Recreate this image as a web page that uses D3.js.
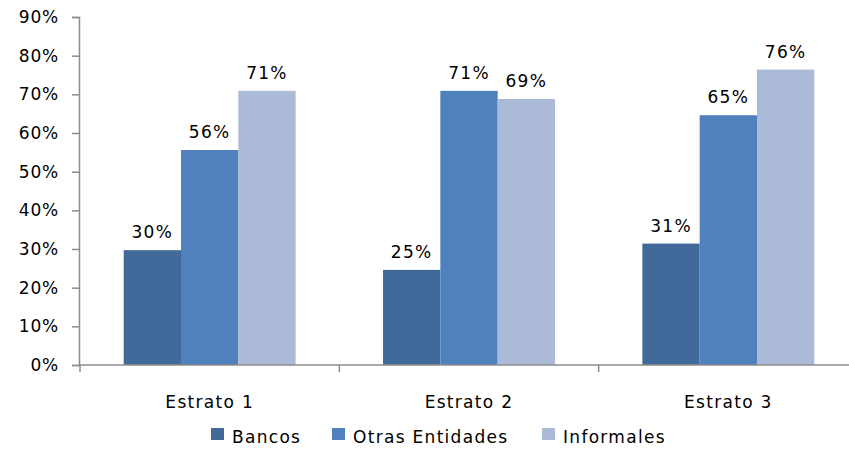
<!DOCTYPE html>
<html><head><meta charset="utf-8">
<script src="https://cdn.jsdelivr.net/npm/d3@7"></script>
<style>body{margin:0;background:#fff}svg{display:block}text{font-family:"DejaVu Sans",sans-serif;fill:#000;letter-spacing:1.3px}</style>
</head><body><svg id="c" width="849" height="450"></svg>
<script>
const categories = ["Estrato 1", "Estrato 2", "Estrato 3"];
const seriesNames = ["Bancos", "Otras Entidades", "Informales"];
const bancos = [29.7, 24.6, 31.4];
const otras = [55.6, 70.9, 64.6];
const informales = [70.9, 68.8, 76.4];
const yTicks = [0, 10, 20, 30, 40, 50, 60, 70, 80, 90];
const colors = ["#416A9B", "#4F81BD", "#AABAD7"];

const seriesValues = [bancos, otras, informales];
const svg = d3.select("#c");
const x0 = d3.scaleBand().domain(categories).range([80, 858]).paddingInner(0).paddingOuter(0);
const x1 = d3.scaleBand().domain(seriesNames).range([43.7, x0.bandwidth() - 43.7]);
const y = d3.scaleLinear().domain([0, 90]).range([365, 17]);
const fs = "17px";

// y axis
const ya = svg.append("g").attr("transform", "translate(79,0)")
  .call(d3.axisLeft(y).tickValues(yTicks).tickFormat(d => d + "%").tickSize(7).tickSizeOuter(7).tickPadding(13));
ya.selectAll("path,line").attr("stroke", "#8c8c8c").attr("stroke-width", 1.5);
ya.selectAll("text").style("font-size", fs).style("letter-spacing", "0.8px").attr("font-family", null);

// bars
categories.forEach((c, i) => {
  const g = svg.append("g").attr("transform", `translate(${x0(c)},0)`);
  seriesNames.forEach((s, j) => {
    const v = seriesValues[j][i];
    g.append("rect").attr("x", x1(s)).attr("width", x1.bandwidth()).attr("y", y(v)).attr("height", y(0) - y(v)).attr("fill", colors[j]);
    g.append("text").attr("x", x1(s) + x1.bandwidth() / 2).attr("y", y(v) - 12)
      .attr("text-anchor", "middle").style("font-size", fs).text(Math.round(v) + "%");
  });
});

// x axis
const xa = svg.append("g").attr("transform", "translate(0,365)")
  .call(d3.axisBottom(x0).tickSize(0).tickPadding(31));
xa.select(".domain").attr("stroke", "#8c8c8c").attr("stroke-width", 1.5).attr("d", "M79,0H858");
xa.selectAll("text").style("font-size", fs).attr("font-family", null);
[0, 1, 2].forEach(k => {
  const t = 80 + k * x0.bandwidth();
  xa.append("line").attr("x1", t).attr("x2", t).attr("y1", 0).attr("y2", 7).attr("stroke", "#8c8c8c").attr("stroke-width", 1.5);
});

// legend
const legX = [211, 332, 542];
seriesNames.forEach((s, j) => {
  svg.append("rect").attr("x", legX[j]).attr("y", 428).attr("width", 13).attr("height", 12).attr("fill", colors[j]);
  svg.append("text").attr("x", legX[j] + 21).attr("y", 443).style("font-size", fs).text(s);
});
</script></body></html>
